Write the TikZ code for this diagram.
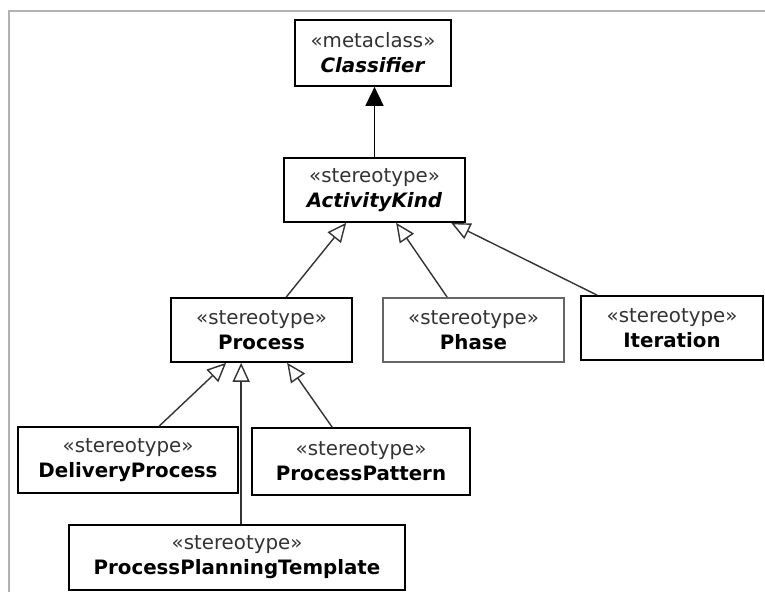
\documentclass[tikz,border=0pt]{standalone}
\usepackage{fontspec}
\setmainfont{DejaVu Sans}
\usetikzlibrary{arrows.meta,calc}
\begin{document}
\begin{tikzpicture}[x=1pt,y=-1pt,
  umlbox/.style={draw=black,line width=1.7pt,fill=white,inner sep=0pt,align=center,
    font=\fontsize{19.8}{25}\selectfont},
  gen/.style={draw=black!80,line width=1.4pt,-{Triangle[open,length=19pt,width=17pt,line width=1.4pt]}},
  inst/.style={draw=black,line width=1.7pt,-{Triangle[length=19pt,width=18pt]}},
]
\useasboundingbox (0,0) rectangle (765,592);
\fill[white] (0,0) rectangle (765,592);
\draw[black!30,line width=1.8pt] (9,592) -- (9,11) -- (765,11);

\node[umlbox,minimum width=156pt,minimum height=66pt] (cls) at (373,53)
  {{\color{black!80}«metaclass»}\\\textbf{\textit{Classifier}}};
\node[umlbox,minimum width=181pt,minimum height=64pt] (ak) at (374.5,190)
  {{\color{black!80}«stereotype»}\\\textbf{\textit{ActivityKind}}};
\node[umlbox,minimum width=181pt,minimum height=64pt] (proc) at (261.5,330)
  {{\color{black!80}«stereotype»}\\\textbf{Process}};
\node[umlbox,draw=black!60,minimum width=181pt,minimum height=64pt] (phase) at (473.5,330)
  {{\color{black!80}«stereotype»}\\\textbf{Phase}};
\node[umlbox,minimum width=182pt,minimum height=64pt] (iter) at (672,328)
  {{\color{black!80}«stereotype»}\\\textbf{Iteration}};
\node[umlbox,minimum width=220pt,minimum height=66pt] (dp) at (128,460)
  {{\color{black!80}«stereotype»}\\\textbf{DeliveryProcess}};
\node[umlbox,minimum width=218pt,minimum height=67pt] (pp) at (361,461.5)
  {{\color{black!80}«stereotype»}\\\textbf{ProcessPattern}};
\node[umlbox,minimum width=336pt,minimum height=65pt] (ppt) at (237,557.5)
  {{\color{black!80}«stereotype»}\\\textbf{ProcessPlanningTemplate}};

\draw[inst] (ak.north -| cls.south) ++(1.5,0) -- ([xshift=1.5pt]cls.south);

\draw[gen] ([xshift=116pt]proc.north west) -- ([xshift=63pt]ak.south west);
\draw[gen] ([xshift=65pt]phase.north west) -- ([xshift=113pt]ak.south west);
\draw[gen] ([xshift=17pt]iter.north west) -- ([xshift=168pt]ak.south west);

\draw[gen] ([xshift=142pt]dp.north west) -- ([xshift=56pt]proc.south west);
\draw[gen] ([xshift=173pt]ppt.north west) -- ([xshift=71pt]proc.south west);
\draw[gen] ([xshift=81pt]pp.north west) -- ([xshift=117pt]proc.south west);
\end{tikzpicture}
\end{document}
